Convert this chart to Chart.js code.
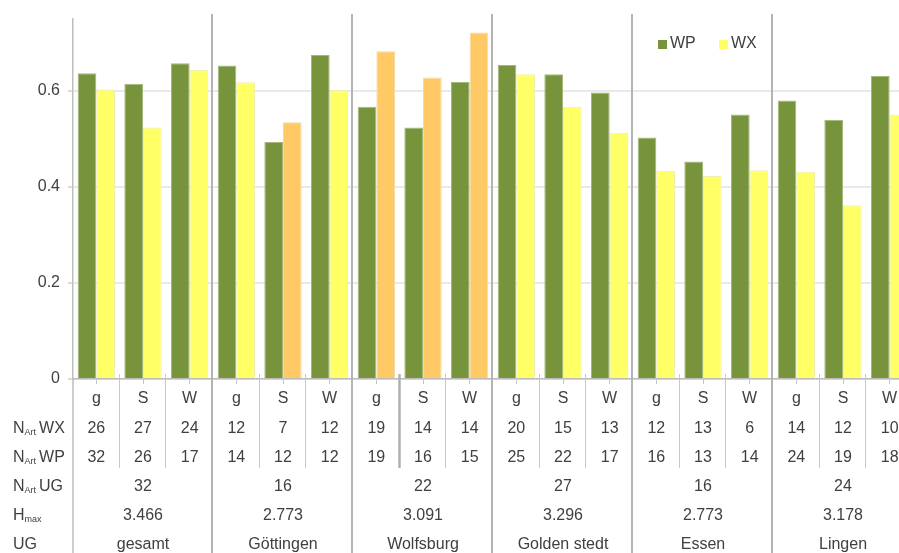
<!DOCTYPE html>
<html>
<head>
<meta charset="utf-8">
<script src="https://cdn.jsdelivr.net/npm/chart.js@4/dist/chart.umd.min.js"></script>
<style>
html, body { margin: 0; padding: 0; background: #fff; overflow: hidden; width: 899px; height: 553px; }
#wrap { position: absolute; left: 0; top: 0; width: 913px; height: 553px; }
</style>
</head>
<body>
<div id="wrap"><canvas id="c"></canvas></div>
<script>
// ---- data ----
const categories = ['g','S','W','g','S','W','g','S','W','g','S','W','g','S','W','g','S','W'];
const groups = ['gesamt','Göttingen','Wolfsburg','Golden stedt','Essen','Lingen'];
const wpValues = [0.637,0.615,0.658, 0.653,0.494,0.675, 0.567,0.524,0.619, 0.654,0.635,0.597, 0.503,0.453,0.551, 0.580,0.540,0.631];
const wxValues = [0.603,0.524,0.644, 0.618,0.535,0.602, 0.683,0.628,0.722, 0.635,0.567,0.513, 0.434,0.423,0.435, 0.432,0.362,0.551];
const nArtWX = [26,27,24, 12,7,12, 19,14,14, 20,15,13, 12,13,6, 14,12,10];
const nArtWP = [32,26,17, 14,12,12, 19,16,15, 25,22,17, 16,13,14, 24,19,18];
const nArtUG = [32,16,22,27,16,24];
const hMax = ['3.466','2.773','3.091','3.296','2.773','3.178'];
const yTicks = [0, 0.2, 0.4, 0.6];
const seriesNames = ['WP','WX'];
const highlightedWX = [4,6,7,8];

// ---- styles ----
const GREEN = '#77933C', YELLOW = '#FFFF66', ORANGE = '#FFCA66';
const FONT = '"Liberation Sans", Arial, sans-serif';
const TXT = '#404040';

const wxColors = wxValues.map((v,i) => highlightedWX.includes(i) ? ORANGE : YELLOW);
const wxBorders = wxValues.map((v,i) => highlightedWX.includes(i) ? '#f3d9a6' : '#eeeeb0');

const tablePlugin = {
  id: 'tablePlugin',
  beforeDatasetsDraw(chart) {
    const ctx = chart.ctx, xs = chart.scales.x, ca = chart.chartArea;
    ctx.save();
    ctx.strokeStyle = '#b4b4b4';
    ctx.lineWidth = 2;
    for (let g = 1; g < groups.length; g++) {
      const x = Math.round((xs.getPixelForValue(3*g-1) + xs.getPixelForValue(3*g)) / 2) - 1;
      ctx.beginPath(); ctx.moveTo(x, ca.top - 5); ctx.lineTo(x, 553); ctx.stroke();
    }
    ctx.restore();
  },
  afterDraw(chart) {
    const ctx = chart.ctx, xs = chart.scales.x, ca = chart.chartArea;
    ctx.save();
    ctx.strokeStyle = '#bdbdbd'; ctx.lineWidth = 1.5;
    ctx.beginPath(); ctx.moveTo(ca.left, ca.bottom); ctx.lineTo(ca.left, 553); ctx.stroke();
    for (let i = 0; i < categories.length - 1; i++) {
      if ((i + 1) % 3 === 0) continue;
      const x = Math.round((xs.getPixelForValue(i) + xs.getPixelForValue(i+1)) / 2) - 0.5;
      if (i === 6) { ctx.strokeStyle = '#b0b0b0'; ctx.lineWidth = 2.5; }
      else { ctx.strokeStyle = '#c8c8c8'; ctx.lineWidth = 1; }
      ctx.beginPath(); ctx.moveTo(x, ca.bottom - 5); ctx.lineTo(x, 468); ctx.stroke();
    }
    const rowY = [399, 428.5, 457.5, 486.5, 516, 545];
    ctx.fillStyle = TXT;
    ctx.font = '16px ' + FONT;
    ctx.textAlign = 'center';
    ctx.textBaseline = 'middle';
    categories.forEach((c, i) => {
      const x = xs.getPixelForValue(i);
      ctx.fillText(c, x, rowY[0]);
      ctx.fillText(String(nArtWX[i]), x, rowY[1]);
      ctx.fillText(String(nArtWP[i]), x, rowY[2]);
    });
    groups.forEach((g, k) => {
      const x = xs.getPixelForValue(3*k + 1);
      ctx.fillText(String(nArtUG[k]), x, rowY[3]);
      ctx.fillText(hMax[k], x, rowY[4]);
      ctx.fillText(g, x, rowY[5]);
    });
    ctx.textAlign = 'left';
    const lx = 13;
    function subLabel(main, sub, rest, y) {
      ctx.font = '16px ' + FONT;
      ctx.fillText(main, lx, y);
      let x = lx + ctx.measureText(main).width;
      ctx.font = '9px ' + FONT;
      ctx.fillText(sub, x, y + 4);
      x += ctx.measureText(sub).width;
      if (rest) {
        ctx.font = '16px ' + FONT;
        ctx.fillText(rest, x + 3, y);
      }
    }
    subLabel('N', 'Art', 'WX', rowY[1]);
    subLabel('N', 'Art', 'WP', rowY[2]);
    subLabel('N', 'Art', 'UG', rowY[3]);
    subLabel('H', 'max', '', rowY[4]);
    ctx.font = '16px ' + FONT;
    ctx.fillText('UG', lx, rowY[5]);
    const legendColors = [GREEN, YELLOW];
    const legendX = [658, 719];
    chart.data.datasets.forEach((ds, i) => {
      ctx.fillStyle = legendColors[i];
      ctx.fillRect(legendX[i], 40, 9, 9);
      ctx.fillStyle = TXT;
      ctx.font = '16px ' + FONT;
      ctx.textBaseline = 'middle';
      ctx.fillText(ds.label, legendX[i] + 12, 44);
    });
    ctx.restore();
  }
};

new Chart(document.getElementById('c'), {
  type: 'bar',
  data: {
    labels: categories,
    datasets: [
      { label: seriesNames[0], data: wpValues, backgroundColor: GREEN, borderColor: '#a3b87a', borderWidth: 1 },
      { label: seriesNames[1], data: wxValues, backgroundColor: wxColors, borderColor: wxBorders, borderWidth: 1 }
    ]
  },
  options: {
    responsive: true,
    maintainAspectRatio: false,
    animation: false,
    devicePixelRatio: 1,
    layout: { padding: { top: 19, left: 0, right: 0, bottom: 0 } },
    datasets: { bar: { categoryPercentage: 0.8, barPercentage: 1.0 } },
    plugins: { legend: { display: false }, tooltip: { enabled: false } },
    scales: {
      x: {
        offset: true,
        ticks: { display: false },
        grid: { offset: false, drawOnChartArea: false, drawTicks: true, tickLength: 5, color: '#c4c4c4' },
        border: { display: true, color: '#bdbdbd', width: 1.5 },
        afterFit(s) { s.height = 174; }
      },
      y: {
        min: 0, max: 0.75,
        afterBuildTicks(s) { s.ticks = yTicks.map(v => ({ value: v })); },
        ticks: {
          padding: 8,
          color: TXT,
          font: { family: FONT, size: 16 },
          callback: v => String(v)
        },
        grid: { color: '#e9e9e9', lineWidth: 2, tickLength: 5, tickColor: '#dcdcdc' },
        border: { display: true, color: '#bdbdbd', width: 1.5 },
        afterFit(s) { s.width = 73; }
      }
    }
  },
  plugins: [tablePlugin]
});
</script>
</body>
</html>
